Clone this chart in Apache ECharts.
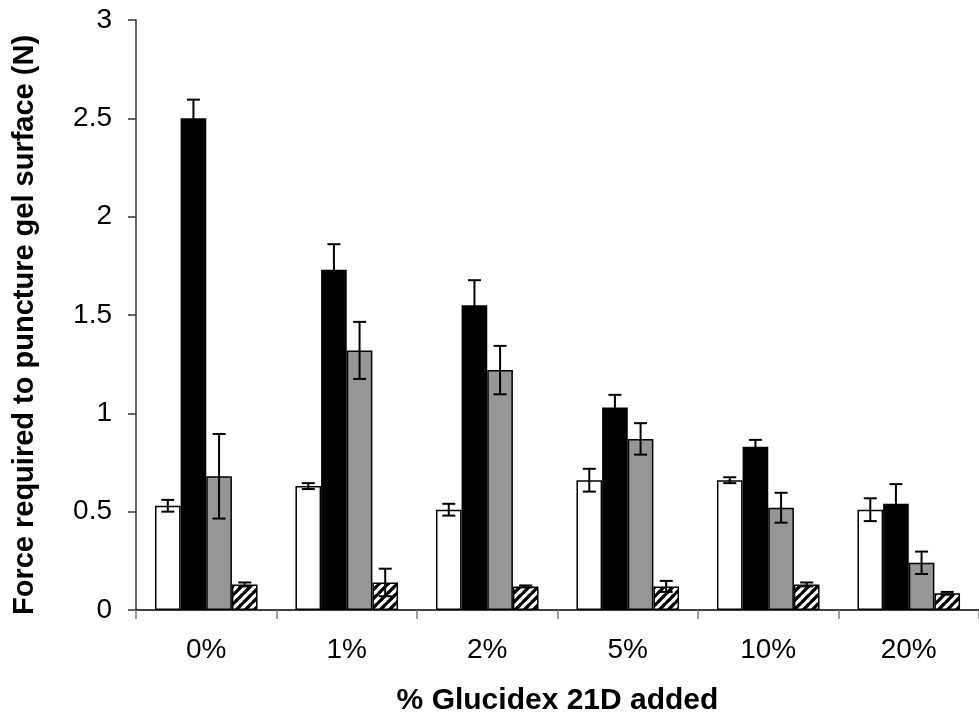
<!DOCTYPE html>
<html>
<head>
<meta charset="utf-8">
<script src="https://cdn.jsdelivr.net/npm/echarts@6/dist/echarts.min.js"></script>
<style>
  html, body { margin: 0; padding: 0; background: #fff; }
  #chart { width: 979px; height: 721px; }
</style>
</head>
<body>
<div id="chart"></div>
<script>
// Puncture force by Glucidex 21D level, four gel formulations
const categories = ['0%', '1%', '2%', '5%', '10%', '20%'];
const whiteVals = [0.53, 0.63, 0.51, 0.66, 0.66, 0.51];
const whiteErr  = [0.03, 0.015, 0.03, 0.058, 0.015, 0.058];
const blackVals = [2.50, 1.73, 1.55, 1.03, 0.83, 0.54];
const blackErr  = [0.095, 0.13, 0.127, 0.064, 0.035, 0.10];
const grayVals  = [0.68, 1.32, 1.22, 0.87, 0.52, 0.24];
const grayErr   = [0.215, 0.145, 0.123, 0.08, 0.076, 0.057];
const hatchVals = [0.13, 0.14, 0.12, 0.12, 0.13, 0.085];
const hatchErr  = [0.01, 0.07, 0.005, 0.028, 0.01, 0.007];
const yTicks = [0, 0.5, 1, 1.5, 2, 2.5, 3];

const FONT = '"Liberation Sans", Arial, sans-serif';
const CAT_GAP = 0.27;

// diagonal hatch tile for the fourth series
function hatchTile() {
  const c = document.createElement('canvas');
  const s = 9;
  c.width = s; c.height = s;
  const g = c.getContext('2d');
  g.fillStyle = '#fff';
  g.fillRect(0, 0, s, s);
  g.strokeStyle = '#000';
  g.lineWidth = 3;
  g.lineCap = 'square';
  [[-s, s, 0, 0], [0, s, s, 0], [s, s * 2, s * 2, s], [-s, s * 2, s, 0], [0, s * 2, s * 2, 0]].forEach(function (p) {
    g.beginPath();
    g.moveTo(p[0], p[1]);
    g.lineTo(p[2], p[3]);
    g.stroke();
  });
  return c;
}

const barSeriesDefs = [
  { vals: whiteVals, errs: whiteErr, fill: '#ffffff' },
  { vals: blackVals, errs: blackErr, fill: '#000000' },
  { vals: grayVals,  errs: grayErr,  fill: '#969696' },
  { vals: hatchVals, errs: hatchErr, fill: { image: hatchTile(), repeat: 'repeat' } }
];

// vertical error whiskers with caps, centred on the k-th bar of each group
function errorRenderer(k) {
  return function (params, api) {
    const cat = api.value(0), v = api.value(1), e = api.value(2);
    const band = api.size([1, 0])[0];
    const group = band * (1 - CAT_GAP);
    const bw = group / 4;
    const center = api.coord([cat, 0])[0];
    const x = center - group / 2 + bw * (k + 0.5);
    const yTop = api.coord([cat, v + e])[1];
    const yBot = api.coord([cat, v - e])[1];
    const cap = 6.5;
    const style = { stroke: '#000', lineWidth: 2 };
    return {
      type: 'group',
      children: [
        { type: 'line', shape: { x1: x, y1: yTop, x2: x, y2: yBot }, style: style },
        { type: 'line', shape: { x1: x - cap, y1: yTop, x2: x + cap, y2: yTop }, style: style },
        { type: 'line', shape: { x1: x - cap, y1: yBot, x2: x + cap, y2: yBot }, style: style }
      ]
    };
  };
}

const series = [];
barSeriesDefs.forEach(function (d) {
  series.push({
    type: 'bar',
    data: d.vals,
    barGap: '0%',
    barCategoryGap: (CAT_GAP * 100) + '%',
    itemStyle: { color: d.fill, borderColor: '#000', borderWidth: 1.5 },
    z: 2
  });
});
barSeriesDefs.forEach(function (d, k) {
  series.push({
    type: 'custom',
    renderItem: errorRenderer(k),
    data: d.vals.map(function (v, i) { return [i, v, d.errs[i]]; }),
    z: 5,
    silent: true
  });
});

const chart = echarts.init(document.getElementById('chart'), null, { renderer: 'canvas' });
chart.setOption({
  animation: false,
  backgroundColor: '#ffffff',
  grid: { left: 136, top: 20, bottom: 111, right: -9, containLabel: false },
  xAxis: {
    type: 'category',
    data: categories,
    boundaryGap: true,
    name: '% Glucidex 21D added',
    nameLocation: 'middle',
    nameGap: 76,
    nameTextStyle: { fontFamily: FONT, fontSize: 30, fontWeight: 'bold', color: '#000' },
    axisLine: { lineStyle: { color: '#000', width: 1.5 } },
    axisTick: { show: true, length: 9, lineStyle: { color: '#808080', width: 1.5 } },
    axisLabel: { fontFamily: FONT, fontSize: 28, color: '#000', margin: 26 }
  },
  yAxis: {
    type: 'value',
    min: yTicks[0],
    max: yTicks[yTicks.length - 1],
    interval: 0.5,
    name: 'Force required to puncture gel surface (N)',
    nameLocation: 'middle',
    nameGap: 97,
    nameTextStyle: { fontFamily: FONT, fontSize: 29, fontWeight: 'bold', color: '#000', padding: [0, 20, 0, 0] },
    axisLine: { show: true, lineStyle: { color: '#333', width: 1.5 } },
    axisTick: { show: true, length: 8, lineStyle: { color: '#333', width: 1.5 } },
    axisLabel: { fontFamily: FONT, fontSize: 28, color: '#000', margin: 24 },
    splitLine: { show: false }
  },
  series: series
});
</script>
</body>
</html>
